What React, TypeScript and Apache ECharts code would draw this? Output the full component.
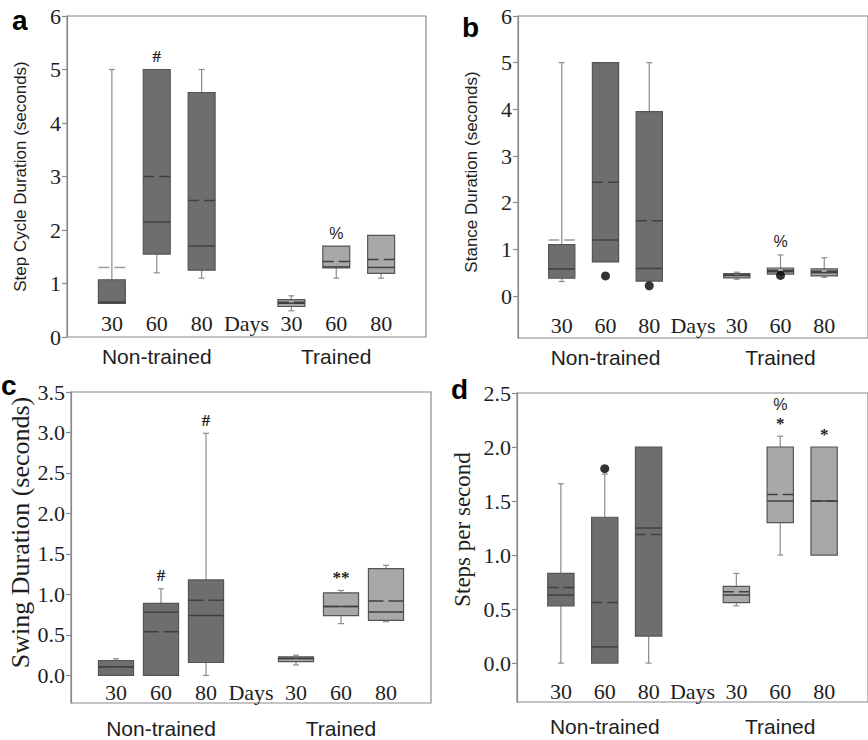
import React, { useEffect, useRef } from 'react';
import * as echarts from 'echarts';

// x-axis labels (positions 1..7 on each panel)
const dayLabels = ['30', '60', '80', 'Days', '30', '60', '80'];
const groupLabels = ['Non-trained', 'Trained'];
const boxPositions = [1, 2, 3, 5, 6, 7];
const trainedFlags = [false, false, false, true, true, true];

// each row: [min, q1, median, q3, max, mean]
const stepCycle = [
  [0.63, 0.63, 0.65, 1.07, 5.0, 1.3],
  [1.2, 1.55, 2.15, 5.0, 5.0, 3.0],
  [1.1, 1.25, 1.7, 4.57, 5.0, 2.55],
  [0.49, 0.57, 0.63, 0.7, 0.77, 0.65],
  [1.1, 1.29, 1.31, 1.7, 1.7, 1.41],
  [1.1, 1.19, 1.3, 1.9, 1.9, 1.45],
];
const stepCycleMarks = [[], ['#'], [], [], ['%'], []];
const stepCycleOutliers: number[][] = [];

const stance = [
  [0.31, 0.38, 0.58, 1.1, 5.0, 1.2],
  [0.73, 0.73, 1.2, 5.0, 5.0, 2.44],
  [0.32, 0.32, 0.59, 3.95, 5.0, 1.61],
  [0.36, 0.39, 0.44, 0.48, 0.51, 0.45],
  [0.46, 0.47, 0.52, 0.6, 0.88, 0.55],
  [0.4, 0.43, 0.5, 0.58, 0.82, 0.53],
];
const stanceMarks = [[], [], [], [], ['%'], []];
const stanceOutliers = [[2, 0.43], [3, 0.22], [6, 0.44]];

const swing = [
  [0, 0, 0.107, 0.185, 0.206, 0.107],
  [0, 0, 0.78, 0.89, 1.07, 0.54],
  [0, 0.16, 0.74, 1.18, 2.99, 0.93],
  [0.13, 0.17, 0.21, 0.23, 0.25, 0.21],
  [0.64, 0.74, 0.85, 1.02, 1.05, 0.85],
  [0.665, 0.68, 0.785, 1.32, 1.36, 0.92],
];
const swingMarks = [[], ['#'], ['#'], [], ['**'], []];
const swingOutliers: number[][] = [];

const stepsPerSecond = [
  [0, 0.53, 0.63, 0.83, 1.66, 0.7],
  [0, 0, 0.15, 1.35, 1.75, 0.56],
  [0, 0.25, 1.25, 2.0, 2.0, 1.19],
  [0.53, 0.56, 0.63, 0.71, 0.83, 0.66],
  [1.0, 1.3, 1.5, 2.0, 2.1, 1.56],
  [1.0, 1.0, 1.5, 2.0, 2.0, 1.5],
];
const stepsMarks = [[], [], [], [], ['*', '%'], ['*']];
const stepsOutliers = [[2, 1.8]];

const yTicksA = [0, 1, 2, 3, 4, 5, 6];
const yTicksB = [0, 1, 2, 3, 4, 5, 6];
const yTicksC = [0, 0.5, 1.0, 1.5, 2.0, 2.5, 3.0, 3.5];
const yTicksD = [0, 0.5, 1.0, 1.5, 2.0, 2.5];

const panelLetters = ['a', 'b', 'c', 'd'];
const yNames = [
  'Step Cycle Duration (seconds)',
  'Stance Duration (seconds)',
  'Swing Duration (seconds)',
  'Steps per second',
];

const SERIF = 'Liberation Serif';
const SANS = 'Liberation Sans';
const AXIS_COLOR = '#8a8a8a';
const TEXT = '#1e1e1e';

function makeRenderItem(marks: string[][], boxUnits: number) {
  return (params: any, api: any) => {
    const i = params.dataIndex;
    const x = api.value(0);
    const mn = api.value(1);
    const q1 = api.value(2);
    const med = api.value(3);
    const q3 = api.value(4);
    const mx = api.value(5);
    const mean = api.value(6);
    const trained = api.value(7) === 1;
    const w = api.size([boxUnits, 0])[0];
    const cx = api.coord([x, 0])[0];
    const y = (v: number) => api.coord([x, v])[1];
    const children: any[] = [];
    const whisker = { stroke: '#8c8c8c', lineWidth: 1.2 };
    const capHalf = 3;
    if (mx > q3) {
      children.push({ type: 'line', shape: { x1: cx, y1: y(q3), x2: cx, y2: y(mx) }, style: whisker });
      children.push({ type: 'line', shape: { x1: cx - capHalf, y1: y(mx), x2: cx + capHalf, y2: y(mx) }, style: whisker });
    }
    if (mn < q1) {
      children.push({ type: 'line', shape: { x1: cx, y1: y(q1), x2: cx, y2: y(mn) }, style: whisker });
      children.push({ type: 'line', shape: { x1: cx - capHalf, y1: y(mn), x2: cx + capHalf, y2: y(mn) }, style: whisker });
    }
    children.push({
      type: 'rect',
      shape: { x: cx - w / 2, y: y(q3), width: w, height: Math.max(1, y(q1) - y(q3)) },
      style: { fill: trained ? '#a8a8a8' : '#6e6e6e', stroke: '#555555', lineWidth: 1.2 },
    });
    children.push({
      type: 'line',
      shape: { x1: cx - w / 2, y1: y(med), x2: cx + w / 2, y2: y(med) },
      style: { stroke: '#404040', lineWidth: 1.5 },
    });
    const inBox = mean >= q1 && mean <= q3;
    const dash = (w - 5) / 2;
    children.push({
      type: 'line',
      shape: { x1: cx - w / 2, y1: y(mean), x2: cx + w / 2, y2: y(mean) },
      style: { stroke: inBox ? '#404040' : '#9a9a9a', lineWidth: 1.5, lineDash: [dash, 5] },
    });
    const m = marks[i] || [];
    m.forEach((t, k) => {
      const isPct = t === '%';
      children.push({
        type: 'text',
        x: cx,
        y: y(mx) - 13 - k * 19,
        style: {
          text: t,
          fill: TEXT,
          fontFamily: isPct ? SANS : SERIF,
          fontSize: isPct ? 16 : 17,
          fontWeight: isPct ? 'normal' : 'bold',
          textAlign: 'center',
          textVerticalAlign: 'middle',
        },
      });
    });
    return { type: 'group', children };
  };
}

export default function App() {
  const ref = useRef<HTMLDivElement>(null);
  useEffect(() => {
    if (!ref.current) return;
    const chart = echarts.init(ref.current, undefined, { renderer: 'svg' });

    const panels = [
      { data: stepCycle, marks: stepCycleMarks, outliers: stepCycleOutliers, ticks: yTicksA, min: 0, max: 6, dec: 0,
        grid: { left: 67, top: 16, width: 359, height: 321 }, box: 0.6, labelMargin: 3, groupMargin: 9,
        nameFont: SANS, nameSize: 17, nameGap: 38, namePad: [0, 0, 0, 0], letter: { x: 12, y: 20 } },
      { data: stance, marks: stanceMarks, outliers: stanceOutliers, ticks: yTicksB, min: -0.9, max: 6, dec: 0,
        grid: { left: 518, top: 16, width: 360, height: 322 }, box: 0.6, labelMargin: 2, groupMargin: 9,
        nameFont: SANS, nameSize: 17, nameGap: 38, namePad: [0, 0, 0, 10], letter: { x: 462, y: 27 } },
      { data: swing, marks: swingMarks, outliers: swingOutliers, ticks: yTicksC, min: -0.34, max: 3.5, dec: 1,
        grid: { left: 71, top: 392, width: 360, height: 311 }, box: 0.78, labelMargin: 0, groupMargin: 15,
        nameFont: SERIF, nameSize: 26, nameGap: 38, namePad: [0, 0, 0, 30], letter: { x: 1, y: 385 } },
      { data: stepsPerSecond, marks: stepsMarks, outliers: stepsOutliers, ticks: yTicksD, min: -0.36, max: 2.5, dec: 1,
        grid: { left: 517, top: 393, width: 359, height: 309 }, box: 0.6, labelMargin: 0, groupMargin: 14,
        nameFont: SERIF, nameSize: 23, nameGap: 43, namePad: [0, 0, 0, 36], letter: { x: 451, y: 389 } },
    ];

    const grids: any[] = [];
    const xAxes: any[] = [];
    const yAxes: any[] = [];
    const series: any[] = [];
    const graphics: any[] = [];

    const serifLabel = { fontFamily: SERIF, fontSize: 22, color: TEXT, fontWeight: 'normal' };

    panels.forEach((p, k) => {
      grids.push({ ...p.grid, show: true, borderColor: AXIS_COLOR, borderWidth: 1.2, backgroundColor: 'transparent' });
      xAxes.push({
        gridIndex: k, type: 'value', min: 0, max: 8, position: 'bottom',
        axisLine: { show: false }, axisTick: { show: false }, splitLine: { show: false },
        axisLabel: {
          inside: true, margin: p.labelMargin,
          customValues: [1, 2, 3, 4, 5, 6, 7],
          formatter: (v: number) => dayLabels[Math.round(v) - 1] ?? '',
          ...serifLabel,
        },
      });
      xAxes.push({
        gridIndex: k, type: 'value', min: 0, max: 8, position: 'bottom',
        axisLine: { show: false }, axisTick: { show: false }, splitLine: { show: false },
        axisLabel: {
          margin: p.groupMargin,
          customValues: [2, 6],
          formatter: (v: number) => (Math.round(v) === 2 ? groupLabels[0] : groupLabels[1]),
          fontFamily: SANS, fontSize: 21, color: TEXT,
        },
      });
      yAxes.push({
        gridIndex: k, type: 'value', min: p.min, max: p.max,
        name: yNames[k], nameLocation: 'middle', nameGap: p.nameGap,
        nameTextStyle: { fontFamily: p.nameFont, fontSize: p.nameSize, color: TEXT, padding: p.namePad },
        axisLine: { show: true, lineStyle: { color: AXIS_COLOR, width: 1.2 } },
        axisTick: { show: true, length: 5, customValues: p.ticks, lineStyle: { color: AXIS_COLOR, width: 1.2 } },
        splitLine: { show: false },
        axisLabel: {
          customValues: p.ticks, margin: 6,
          formatter: (v: number) => v.toFixed(p.dec),
          ...serifLabel,
        },
      });
      series.push({
        type: 'custom',
        xAxisIndex: k * 2, yAxisIndex: k,
        renderItem: makeRenderItem(p.marks, p.box),
        encode: { x: 0, y: [1, 2, 3, 4, 5, 6] },
        data: p.data.map((row, i) => [boxPositions[i], ...row, trainedFlags[i] ? 1 : 0]),
        clip: false,
        z: 2,
      });
      series.push({
        type: 'scatter',
        xAxisIndex: k * 2, yAxisIndex: k,
        symbol: 'circle', symbolSize: 9,
        itemStyle: { color: '#000' },
        data: p.outliers,
        z: 3,
      });
      graphics.push({
        type: 'text', x: p.letter.x, y: p.letter.y,
        style: { text: panelLetters[k], fontFamily: SANS, fontSize: 28, fontWeight: 'bold', fill: '#000', textVerticalAlign: 'middle' },
      });
    });

    chart.setOption({
      animation: false,
      backgroundColor: '#ffffff',
      textStyle: { fontFamily: SERIF },
      grid: grids,
      xAxis: xAxes,
      yAxis: yAxes,
      series,
      graphic: graphics,
    });
    return () => chart.dispose();
  }, []);

  return <div ref={ref} style={{ position: 'fixed', left: 0, top: 0, width: 868, height: 740 }} />;
}
